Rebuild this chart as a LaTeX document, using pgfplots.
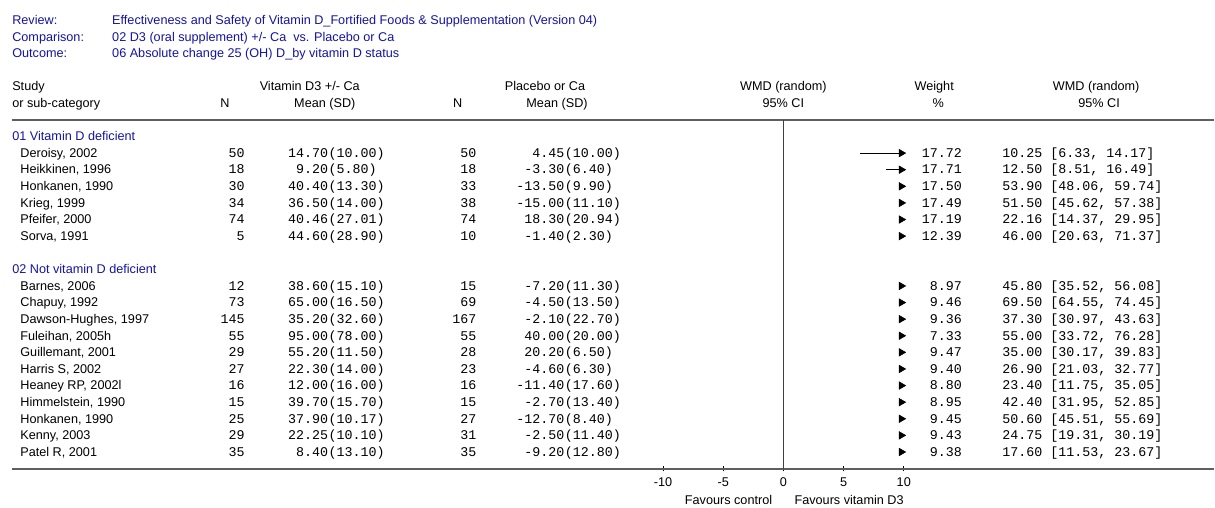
\documentclass[border=0pt]{standalone}
\usepackage{fontspec}
\setmainfont{Liberation Sans}
\setmonofont{Liberation Mono}
\usepackage{pgfplots}
\usepackage{pgfplotstable}
\pgfplotsset{compat=1.18}

\definecolor{rmblue}{RGB}{20,20,160}
\definecolor{rulegray}{RGB}{95,95,95}

\newcommand{\tx}{\fontsize{9.5}{11}\selectfont}
\newcommand{\mn}{\ttfamily\fontsize{10}{12}\selectfont}

% r = row (0 = first study), WMD (random) with 95% CI
\pgfplotstableread[col sep=semicolon]{
r;name;n1;m1;s1;n2;m2;s2;w;est;lo;hi
0;Deroisy, 2002;50;14.70;10.00;50;4.45;10.00;17.72;10.25;6.33;14.17
1;Heikkinen, 1996;18;9.20;5.80;18;-3.30;6.40;17.71;12.50;8.51;16.49
2;Honkanen, 1990;30;40.40;13.30;33;-13.50;9.90;17.50;53.90;48.06;59.74
3;Krieg, 1999;34;36.50;14.00;38;-15.00;11.10;17.49;51.50;45.62;57.38
4;Pfeifer, 2000;74;40.46;27.01;74;18.30;20.94;17.19;22.16;14.37;29.95
5;Sorva, 1991;5;44.60;28.90;10;-1.40;2.30;12.39;46.00;20.63;71.37
8;Barnes, 2006;12;38.60;15.10;15;-7.20;11.30;8.97;45.80;35.52;56.08
9;Chapuy, 1992;73;65.00;16.50;69;-4.50;13.50;9.46;69.50;64.55;74.45
10;Dawson-Hughes, 1997;145;35.20;32.60;167;-2.10;22.70;9.36;37.30;30.97;43.63
11;Fuleihan, 2005h;55;95.00;78.00;55;40.00;20.00;7.33;55.00;33.72;76.28
12;Guillemant, 2001;29;55.20;11.50;28;20.20;6.50;9.47;35.00;30.17;39.83
13;Harris S, 2002;27;22.30;14.00;23;-4.60;6.30;9.40;26.90;21.03;32.77
14;Heaney RP, 2002l;16;12.00;16.00;16;-11.40;17.60;8.80;23.40;11.75;35.05
15;Himmelstein, 1990;15;39.70;15.70;15;-2.70;13.40;8.95;42.40;31.95;52.85
16;Honkanen, 1990;25;37.90;10.17;27;-12.70;8.40;9.45;50.60;45.51;55.69
17;Kenny, 2003;29;22.25;10.10;31;-2.50;11.40;9.43;24.75;19.31;30.19
18;Patel R, 2001;35;8.40;13.10;35;-9.20;12.80;9.38;17.60;11.53;23.67
}\studies

\pgfplotsset{
  txtcol/.style={only marks, mark=none, nodes near coords, point meta=explicit symbolic,
    every node near coord/.append style={font=\mn, inner sep=0pt, yshift=-3.2pt, anchor=#1}},
  txtcol/.default={base east},
}
\tikzset{lbl/.style={font=\tx, inner sep=0pt, yshift=-3.2pt}}
\newcommand{\two}[1]{\pgfmathprintnumber[fixed, zerofill, precision=2, assume math mode=true]{#1}}

\begin{document}
\begin{tikzpicture}
\begin{axis}[
  scale only axis, width=902.25pt, height=261.75pt,
  xmin=-64.07, xmax=35.77, ymin=-2, ymax=19, y dir=reverse,
  axis x line*=bottom, axis y line=none,
  xtick={-10,-5,0,5,10}, xticklabels={-10,-5,0,5,10},
  xticklabel style={font=\tx, yshift=-1.5pt},
  major tick length=4pt, tick align=center,
  x axis line style={rulegray, line width=1.5pt},
  every tick/.style={black, line width=0.6pt},
  clip=false,
]
% frame of the picture
\path (axis cs:-65.07,-9.22) rectangle (axis cs:35.77,21.35);

% title block
\node[lbl, anchor=base west, text=rmblue] at (axis cs:-64.07,-8) {Review:};
\node[lbl, anchor=base west, text=rmblue] at (axis cs:-64.07,-7) {Comparison:};
\node[lbl, anchor=base west, text=rmblue] at (axis cs:-64.07,-6) {Outcome:};
\node[lbl, anchor=base west, text=rmblue] at (axis cs:-55.77,-8) {Effectiveness and Safety of Vitamin D\_Fortified Foods \& Supplementation (Version 04)};
\node[lbl, anchor=base west, text=rmblue] at (axis cs:-55.77,-7) {02 D3 (oral supplement) +/- Ca\ \ vs. Placebo or Ca};
\node[lbl, anchor=base west, text=rmblue] at (axis cs:-55.77,-6) {06 Absolute change 25 (OH) D\_by vitamin D status};

% column headers
\node[lbl, anchor=base west] at (axis cs:-64.07,-4) {Study};
\node[lbl, anchor=base west] at (axis cs:-64.07,-3) {or sub-category};
\node[lbl, anchor=base] at (axis cs:-39.34,-4) {Vitamin D3 +/- Ca};
\node[lbl, anchor=base] at (axis cs:-46.39,-3) {N};
\node[lbl, anchor=base] at (axis cs:-38.09,-3) {Mean (SD)};
\node[lbl, anchor=base] at (axis cs:-19.80,-4) {Placebo or Ca};
\node[lbl, anchor=base] at (axis cs:-27.05,-3) {N};
\node[lbl, anchor=base] at (axis cs:-18.80,-3) {Mean (SD)};
\node[lbl, anchor=base] at (axis cs:0,-4) {WMD (random)};
\node[lbl, anchor=base] at (axis cs:0,-3) {95\% CI};
\node[lbl, anchor=base] at (axis cs:12.53,-4) {Weight};
\node[lbl, anchor=base] at (axis cs:12.86,-3) {\%};
\node[lbl, anchor=base] at (axis cs:25.98,-4) {WMD (random)};
\node[lbl, anchor=base] at (axis cs:26.22,-3) {95\% CI};

% rules and line of no effect
\draw[rulegray, line width=1.5pt] (axis cs:-64.07,-2) -- (axis cs:35.77,-2);
\draw[black!75, line width=1pt] (axis cs:0,-2) -- (axis cs:0,19);

% subgroup headings
\node[lbl, anchor=base west, text=rmblue] at (axis cs:-64.07,-1) {01 Vitamin D deficient};
\node[lbl, anchor=base west, text=rmblue] at (axis cs:-64.07,7) {02 Not vitamin D deficient};

% text columns
\addplot[txtcol={base west}, every node near coord/.append style={font=\tx}] table[x expr=-63.40, y=r, meta=name] {\studies};
\addplot[txtcol] table[x expr=-44.73, y=r, meta=n1] {\studies};
\addplot[txtcol] table[x expr=-37.80, y=r, meta=m1] {\studies};
\addplot[txtcol={base west}, nodes near coords={(\pgfplotspointmeta)}] table[x expr=-37.80, y=r, meta=s1] {\studies};
\addplot[txtcol] table[x expr=-25.48, y=r, meta=n2] {\studies};
\addplot[txtcol] table[x expr=-18.17, y=r, meta=m2] {\studies};
\addplot[txtcol={base west}, nodes near coords={(\pgfplotspointmeta)}] table[x expr=-18.17, y=r, meta=s2] {\studies};
\addplot[txtcol] table[x expr=14.85, y=r, meta=w] {\studies};
\addplot[txtcol={base west},
  visualization depends on={\thisrow{lo}\as\cilo},
  visualization depends on={\thisrow{hi}\as\cihi},
  nodes near coords={\pgfplotspointmeta\ [\two{\cilo}, \two{\cihi}]}]
  table[x expr=18.17, y=r, meta=est] {\studies};

% confidence intervals, cut at the edge of the scale
\addplot[draw=none, mark=none,
  error bars/.cd, x dir=plus, x explicit, error mark=none,
  error bar style={draw=black, line width=0.75pt}]
  table[x expr={min(max(\thisrow{lo},-10),10)}, y=r,
        x error expr={min(\thisrow{hi},10)-min(max(\thisrow{lo},-10),10)}] {\studies};
% arrows for intervals that run off the scale
\addplot[only marks, mark=triangle*, mark size=3.2pt, black, mark options={xshift=-1.8pt, rotate=-90}]
  table[x expr={min(\thisrow{hi},10)}, y=r] {\studies};

% axis captions
\node[lbl, anchor=base east] at (axis cs:-0.91,20.9) {Favours control};
\node[lbl, anchor=base west] at (axis cs:0.91,20.9) {Favours vitamin D3};
\end{axis}
\end{tikzpicture}
\end{document}
